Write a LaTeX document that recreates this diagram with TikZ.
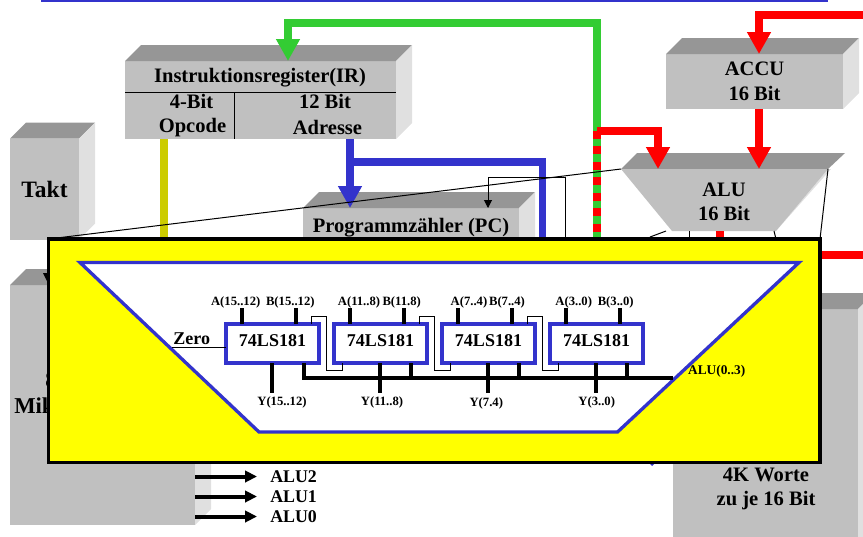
\documentclass[tikz,border=0pt]{standalone}
\usepackage{fontspec}
\setmainfont{Liberation Serif}
\usetikzlibrary{arrows.meta,positioning,calc}

\definecolor{frontgray}{HTML}{C0C0C0}
\definecolor{topgray}{HTML}{969696}
\definecolor{sidegray}{HTML}{E0E0E0}
\definecolor{busblue}{HTML}{3333CC}
\definecolor{busgreen}{HTML}{33CC33}
\definecolor{busolive}{HTML}{CCCC00}
\definecolor{insetyellow}{HTML}{FFFF00}
\definecolor{busred}{HTML}{FF0000}

\newcommand{\blockfaces}[1]{
  \fill[topgray] (#1.north west) -- ++(16,-16) -- ($(#1.north east)+(16,-16)$) -- (#1.north east) -- cycle;
  \fill[sidegray] (#1.north east) -- ++(16,-16) -- ($(#1.south east)+(16,-16)$) -- (#1.south east) -- cycle;
}
\newcommand{\chippins}[1]{
  \draw[pin] (#1.north west) ++(16,0) -- ++(0,-16);
  \draw[pin] (#1.north west) ++(70,0) -- ++(0,-16);
  \draw[pin] (#1.south west) ++(46,0) -- ++(0,30);
}
\newcommand{\carrylink}[2]{
  \draw[thinline] (#1.north west) ++(85,0) -- ++(0,-8) -- ++(15,0) -- ++(0,54) -| ($(#2.south west)+(8,0)$);
}

\begin{document}
\begin{tikzpicture}[
    x=0.75pt, y=-0.75pt,
    lbl/.style={font=\fontsize{15.4}{18.4}\selectfont\bfseries, align=center, inner sep=0},
    ctrllbl/.style={font=\fontsize{13.4}{16}\selectfont\bfseries, anchor=west, inner sep=0},
    pinlbl/.style={font=\fontsize{9.5}{11}\selectfont\bfseries, inner sep=0},
    block/.style 2 args={lbl, fill=frontgray, outer sep=0,
                minimum width=#1*0.75pt, minimum height=#2*0.75pt},
    chip/.style={draw=busblue, line width=2.4pt, fill=white, outer sep=0,
                font=\fontsize{13.5}{16}\selectfont\bfseries, text depth=4pt,
                minimum width=69.75pt, minimum height=29.25pt, inner sep=0},
    bus/.style={line width=5.4pt},
    busarr/.style={bus, -{Triangle[length=16.5pt,width=17pt]}},
    thinline/.style={draw=black, line width=0.75pt},
    thinarr/.style={thinline, -{Triangle[length=6pt,width=6pt]}},
    ctrlarr/.style={line width=3pt, shorten >=9.75pt, -{Triangle[length=9pt,width=8.5pt]}},
    pin/.style={line width=2.8pt},
    wire/.style={line width=2.6pt}
]

\path[use as bounding box, clip] (0,0) rectangle (863,536);

\coordinate (greenturn) at (597,23);
\coordinate (redtap) at (597,131);
\coordinate (greenend) at (597,245);
\coordinate (irin) at (288,23);
\coordinate (accin) at (863,15);
\coordinate (accturn) at (759,15);
\coordinate (aluin) at (658,131);
\coordinate (bluetap) at (350,162);
\coordinate (blueturn) at (542.5,162);
\coordinate (blueend) at (542.5,245);
\coordinate (olivefoot) at (164,245);
\coordinate (ctltop) at (565,177);
\coordinate (ctlfoot) at (565,245);
\coordinate (pcin) at (488,177);
\coordinate (panelnw) at (48.5,239);
\coordinate (panelne) at (820,239);
\coordinate (alutl) at (621,169);
\coordinate (alutr) at (828,169);
\coordinate (alubr) at (776,231);
\coordinate (alubl) at (672,231);
\coordinate (alufoot) at (720,245);
\coordinate (aluout) at (863,255);
\coordinate (aluexit) at (815,255);

% top rule
\draw[busblue, line width=2.2pt] (41,1) -- (828,1);

% blocks
\node[block={271}{78}] (irbox) at (260.5,100) {};
\blockfaces{irbox}
\node[block={69}{101}, font=\fontsize{17.6}{20}\selectfont\bfseries] (takt) at (44.5,189) {Takt};
\blockfaces{takt}
\node[block={216}{72}] (pcbox) at (411,244) {};
\blockfaces{pcbox}
\node[block={177}{55}] (accu) at (754.5,81.5) {ACCU\\16 Bit};
\blockfaces{accu}
\node[block={185}{240}] (micro) at (102.5,405) {};
\blockfaces{micro}
\node[block={185}{251}] (memory) at (765.5,434.5) {};
\blockfaces{memory}

\node[lbl] (irtitle) at (260,78) {Instruktionsregister(IR)};
\node[lbl] (opbits) at (191.5,101.5) {4-Bit};
\node[lbl] (opcode) at (192.5,127.5) {Opcode};
\node[lbl] (adrbits) at (325,101.5) {12 Bit};
\node[lbl] (adresse) at (327.5,127.5) {Adresse};
\draw[thinline] (irbox.west |- 0,92) -- (irbox.east |- 0,92);
\draw[thinline] (234,92) -- (irbox.south -| 234,0);
\node[lbl] (pclabel) at (411,228) {Programmzähler (PC)};
\node[lbl] (memlabel) at (766,489) {4K Worte\\zu je 16 Bit};
\node[lbl, anchor=west, font=\fontsize{17}{20}\selectfont\bfseries] (micromi) at (14,406) {Mik};
\node[lbl, anchor=west, font=\fontsize{17}{20}\selectfont\bfseries] (microsz) at (45,380) {8};
\fill (43,273) -- (55,273) -- (49,285) -- cycle;

% ALU
\fill[topgray] (alutl) -- (637,153) -- (845,153) -- (alutr) -- cycle;
\fill[sidegray] (alutr) -- (831,169) -- (alubr) -- cycle;
\fill[frontgray] (alutl) -- (alutr) -- (alubr) -- (alubl) -- cycle;
\node[lbl] (alulabel) at (724,202) {ALU\\16 Bit};

% busses
\draw[busarr, busgreen] (greenend) -- (greenturn) -- (irin) -- (irbox.north -| irin);
\draw[bus, busred, dash pattern=on 5.8pt off 5.8pt] (redtap) -- (greenend);
\draw[busarr, busred] (redtap) -- (aluin) -- (alutl -| aluin);
\draw[busarr, busred] (accin) -- (accturn) -- (accu.north -| accturn);
\draw[busarr, busred] (accu.south -| accturn) -- (alutl -| accturn);
\draw[bus, busolive] (irbox.south -| olivefoot) -- (olivefoot);
\draw[busarr, busblue] (irbox.south -| bluetap) -- (pcbox.north -| bluetap);
\draw[bus, busblue] (bluetap) -- (blueturn) -- (blueend);
\draw[bus, busred] (alufoot |- alubl) -- (alufoot);
\draw[bus, busred] (aluexit) -- (aluout);
\draw[thinarr] (ctlfoot) -- (ctltop) -- (pcin) -- (pcbox.north -| pcin);
\fill[busblue] (646,460) -- (658,460) -- (652,466) -- cycle;

% ALU control
\node[ctrllbl] (alutwo) at (270,476.5) {ALU2};
\node[ctrllbl] (aluone) at (270,496.5) {ALU1};
\node[ctrllbl] (aluzero) at (270,516.5) {ALU0};
\draw[ctrlarr] (micro.east |- alutwo) -- (alutwo.west);
\draw[ctrlarr] (micro.east |- aluone) -- (aluone.west);
\draw[ctrlarr] (micro.east |- aluzero) -- (aluzero.west);

% zoom lines
\draw[thinline] (panelnw) -- (alutl);
\draw[thinline] (panelne) -- (alutr);
\draw[thinline] (650,237) -- (666,231);
\draw[thinline] (689,245) -- (689,231);
\draw[thinline] (776,239) -- (774,231);

% inset
\node[fill=insetyellow, draw=black, line width=2.7pt, outer sep=0, inner sep=0,
      minimum width=578.6pt, minimum height=167.6pt] (panel) at (434.25,350.75) {};
\draw[busblue, line width=2.5pt, fill=white] (80,262.5) -- (799,262.5) -- (617.5,432) -- (259,432) -- cycle;

\node[chip] (chipa) at (272.5,343.5) {74LS181};
\node[chip, right=11.25pt of chipa] (chipb) {74LS181};
\node[chip, right=11.25pt of chipb] (chipc) {74LS181};
\node[chip, right=11.25pt of chipc] (chipd) {74LS181};

\chippins{chipa}
\chippins{chipb}
\chippins{chipc}
\chippins{chipd}
\carrylink{chipa}{chipb}
\carrylink{chipb}{chipc}
\carrylink{chipc}{chipd}

\coordinate (busend) at (673,378);
\draw[wire] ($(chipa.south west)+(78,0)$) |- (busend);
\draw[wire] ($(chipb.south west)+(77,0)$) -- ++(0,15);
\draw[wire] ($(chipc.south west)+(77,0)$) -- ++(0,15);
\draw[wire] ($(chipd.south west)+(77,0)$) -- ++(0,15);

\node[pinlbl] (ahigh) at (235.7,302) {A(15..12)};
\node[pinlbl] (bhigh) at (290.3,302) {B(15..12)};
\node[pinlbl] (aupper) at (359,302) {A(11..8)};
\node[pinlbl] (bupper) at (401.7,302) {B(11.8)};
\node[pinlbl] (alower) at (469,302) {A(7..4)};
\node[pinlbl] (blower) at (507,302) {B(7..4)};
\node[pinlbl] (alow) at (573.7,302) {A(3..0)};
\node[pinlbl] (blow) at (615.7,302) {B(3..0)};
\node[pinlbl] (yhigh) at (282,402) {Y(15..12)};
\node[pinlbl] (yupper) at (382,402) {Y(11..8)};
\node[pinlbl] (ylower) at (486.3,403) {Y(7.4)};
\node[pinlbl] (ylow) at (596.7,402) {Y(3..0)};
\node[pinlbl, font=\fontsize{10}{12}\selectfont\bfseries] (alubus) at (716.7,371) {ALU(0..3)};

\node[inner sep=0, font=\fontsize{13.5}{16}\selectfont\bfseries] (zero) at (191.7,339) {Zero};
\coordinate (zerofoot) at (172,347);
\draw[thinline] (zerofoot) -- (chipa.west |- zerofoot);

\end{tikzpicture}
\end{document}
